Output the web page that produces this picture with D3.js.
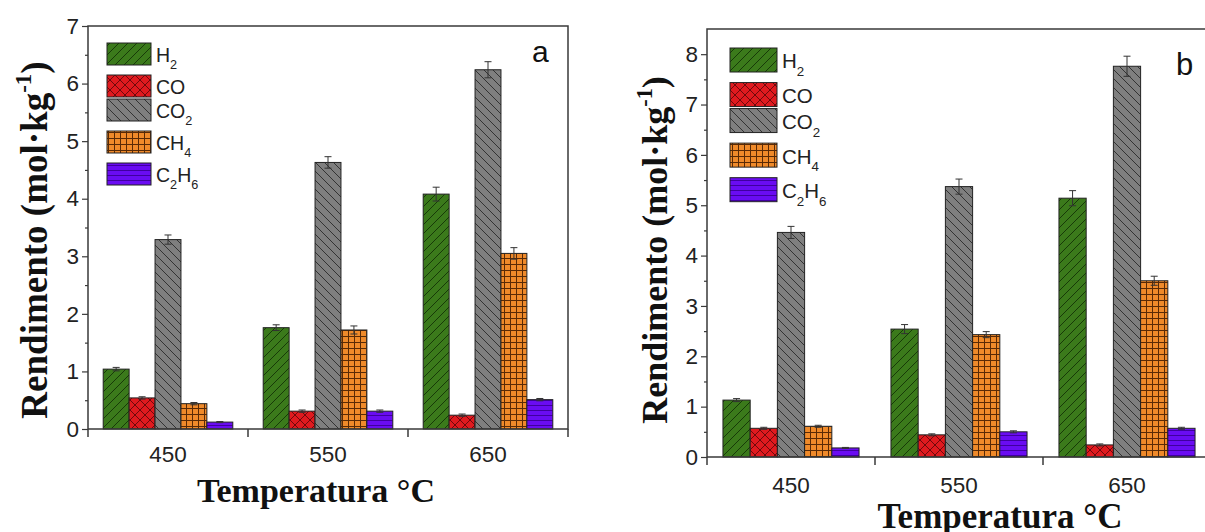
<!DOCTYPE html>
<html>
<head>
<style>
body {margin:0; background:#fff;}
text {font-family: Arial, "Liberation Sans", sans-serif;}
.ttl {font-family: "Liberation Serif", "Times New Roman", serif; font-weight:bold;}
</style>
<script src="https://d3js.org/d3.v7.min.js"></script>
</head>
<body>
<svg id="vis" width="1205" height="532"></svg>
<script>
// categories
var temps = ["450", "550", "650"];
var gases = ["H2", "CO", "CO2", "CH4", "C2H6"];
// legend labels, parts alternate normal / subscript
var legendParts = [["H","2"], ["CO"], ["CO","2"], ["CH","4"], ["C","2","H","6"]];

// panel a values (mol/kg), per gas across temps
var aH2   = [1.04, 1.76, 4.08];
var aCO   = [0.54, 0.31, 0.24];
var aCO2  = [3.29, 4.63, 6.24];
var aCH4  = [0.44, 1.72, 3.05];
var aC2H6 = [0.12, 0.31, 0.51];
var aErrH2   = [0.03, 0.05, 0.12];
var aErrCO   = [0.02, 0.02, 0.02];
var aErrCO2  = [0.08, 0.10, 0.14];
var aErrCH4  = [0.02, 0.07, 0.10];
var aErrC2H6 = [0.01, 0.02, 0.02];

// panel b values
var bH2   = [1.13, 2.54, 5.14];
var bCO   = [0.57, 0.44, 0.24];
var bCO2  = [4.46, 5.37, 7.76];
var bCH4  = [0.61, 2.43, 3.50];
var bC2H6 = [0.18, 0.50, 0.57];
var bErrH2   = [0.03, 0.09, 0.15];
var bErrCO   = [0.02, 0.02, 0.02];
var bErrCO2  = [0.12, 0.15, 0.20];
var bErrCH4  = [0.02, 0.06, 0.09];
var bErrC2H6 = [0.01, 0.02, 0.02];

var ticksA = [0,1,2,3,4,5,6,7];
var ticksB = [0,1,2,3,4,5,6,7,8];

var svg = d3.select("#vis");
var defs = svg.append("defs");

// fill patterns
function pat(id, size, bg, stroke, d) {
  var p = defs.append("pattern").attr("id", id)
    .attr("patternUnits", "userSpaceOnUse")
    .attr("width", size).attr("height", size);
  p.append("rect").attr("width", size).attr("height", size).attr("fill", bg);
  p.append("path").attr("d", d).attr("stroke", stroke).attr("stroke-width", 1).attr("fill", "none");
}
pat("pH2", 9, "#3b7a1b", "#173a08", "M0,9L9,0M-2,2L2,-2M7,11L11,7");
pat("pCO", 10, "#e01a1f", "#6e0a0c", "M0,0L10,10M10,0L0,10M-1,9L1,11M9,-1L11,1M-1,1L1,-1M9,11L11,9");
pat("pCO2", 9, "#7f7f7f", "#333333", "M0,0L9,9M-2,7L2,11M7,-2L11,2");
pat("pCH4", 6, "#ef8a2a", "#5a2a05", "M0.5,0V6M0,0.5H6");
pat("pC2H6", 5, "#6a0cf2", "#4000a0", "M0,0.5H5");
var fills = {H2:"url(#pH2)", CO:"url(#pCO)", CO2:"url(#pCO2)", CH4:"url(#pCH4)", C2H6:"url(#pC2H6)"};

function drawPanel(o) {
  var g = svg.append("g");
  var y = d3.scaleLinear().domain([0, o.yMax]).range([o.bottom, o.top]);
  var x = d3.scaleBand().domain(temps).range([o.left, o.right]);
  var step = x.bandwidth();
  var xi = d3.scaleBand().domain(gases).range([step*0.095, step*0.905]);

  var rows = [];
  temps.forEach(function(t, i) {
    gases.forEach(function(gs, k) {
      rows.push({t:t, gas:gs, v:o.vals[k][i], e:o.errs[k][i]});
    });
  });

  g.selectAll("rect.bar").data(rows).enter().append("rect")
    .attr("x", function(d){ return x(d.t) + xi(d.gas); })
    .attr("y", function(d){ return y(d.v); })
    .attr("width", xi.bandwidth())
    .attr("height", function(d){ return y(0) - y(d.v); })
    .attr("fill", function(d){ return fills[d.gas]; })
    .attr("stroke", "#222").attr("stroke-width", 1);

  // error bars
  var eb = g.selectAll("g.err").data(rows).enter().append("g")
    .attr("stroke", "#333").attr("stroke-width", 1);
  function cx(d){ return x(d.t) + xi(d.gas) + xi.bandwidth()/2; }
  eb.append("line").attr("x1", cx).attr("x2", cx)
    .attr("y1", function(d){ return y(d.v - d.e); }).attr("y2", function(d){ return y(d.v + d.e); });
  eb.append("line").attr("x1", function(d){ return cx(d)-3.5; }).attr("x2", function(d){ return cx(d)+3.5; })
    .attr("y1", function(d){ return y(d.v + d.e); }).attr("y2", function(d){ return y(d.v + d.e); });
  eb.append("line").attr("x1", function(d){ return cx(d)-3.5; }).attr("x2", function(d){ return cx(d)+3.5; })
    .attr("y1", function(d){ return y(d.v - d.e); }).attr("y2", function(d){ return y(d.v - d.e); });

  // frame
  g.append("path")
    .attr("d", "M" + o.left + "," + o.bottom + "V" + o.top + "H" + o.right + "V" + o.bottom + "Z")
    .attr("fill", "none").attr("stroke", "#3a3a3a").attr("stroke-width", 1.5);

  // y axis
  var minors = d3.range(0.5, o.yMax, 1);
  var ya = g.append("g").attr("transform", "translate(" + o.left + ",0)")
    .call(d3.axisLeft(y).tickValues(o.ticks).tickSize(6).tickPadding(3).tickFormat(d3.format("d")));
  g.append("g").attr("transform", "translate(" + o.left + ",0)")
    .call(d3.axisLeft(y).tickValues(minors).tickSize(3).tickFormat(""));
  g.selectAll(".domain").remove();
  g.selectAll(".tick line").attr("stroke", "#3a3a3a").attr("stroke-width", 1.2);
  ya.selectAll("text").attr("font-size", o.tickFont).attr("fill", "#222")
    .attr("font-family", "Arial, 'Liberation Sans', sans-serif");

  // x boundary ticks and labels
  var bounds = temps.map(function(t){ return x(t); }).concat([o.right]);
  g.selectAll("line.xt").data(bounds).enter().append("line")
    .attr("x1", function(d){ return d; }).attr("x2", function(d){ return d; })
    .attr("y1", o.bottom).attr("y2", o.bottom + 8)
    .attr("stroke", "#3a3a3a").attr("stroke-width", 1.5);
  g.selectAll("text.xl").data(temps).enter().append("text")
    .attr("x", function(d){ return x(d) + step/2; })
    .attr("y", o.bottom + o.xLabelDy)
    .attr("text-anchor", "middle").attr("font-size", o.tickFont).attr("fill", "#222")
    .text(function(d){ return d; });

  // legend
  var ly = o.legY;
  legendParts.forEach(function(parts, i) {
    if (i > 0) ly += o.legGap + (legendParts[i-1].length > 1 ? 8 : 0) * o.scale;
    g.append("rect").attr("x", o.legX).attr("y", ly).attr("width", o.legW).attr("height", o.legH)
      .attr("fill", fills[gases[i]]).attr("stroke", "#222").attr("stroke-width", 1);
    var t = g.append("text").attr("x", o.legX + o.legW + 5).attr("y", ly + o.legH*0.85)
      .attr("font-size", o.legFont).attr("fill", "#222");
    parts.forEach(function(p, j) {
      var sp = t.append("tspan").text(p);
      if (j % 2 == 1) sp.attr("font-size", o.legFont*0.65).attr("dy", o.legFont*0.38);
      else if (j > 0) sp.attr("dy", -o.legFont*0.38);
    });
  });

  // panel letter
  g.append("text").attr("x", o.letterX).attr("y", o.letterY).attr("font-size", o.letterFont)
    .attr("fill", "#111").text(o.letter);

  // axis titles
  var yt = g.append("text").attr("class", "ttl")
    .attr("transform", "translate(" + o.yTitleX + "," + o.yTitleY + ") rotate(-90)")
    .attr("text-anchor", "middle").attr("font-size", o.titleFont).attr("fill", "#111");
  yt.append("tspan").text("Rendimento (mol\u00b7kg");
  yt.append("tspan").text("-1").attr("font-size", o.titleFont*0.62).attr("dy", -o.titleFont*0.42);
  yt.append("tspan").text(")").attr("dy", o.titleFont*0.42);
  g.append("text").attr("class", "ttl").attr("x", o.xTitleX).attr("y", o.xTitleY)
    .attr("text-anchor", "middle").attr("font-size", o.xTitleFont).attr("fill", "#111")
    .text("Temperatura \u00b0C");
}

drawPanel({
  left: 88, right: 568, bottom: 429, top: 26, yMax: 7, ticks: ticksA,
  vals: [aH2, aCO, aCO2, aCH4, aC2H6], errs: [aErrH2, aErrCO, aErrCO2, aErrCH4, aErrC2H6],
  tickFont: 22.5, xLabelDy: 33,
  legX: 107, legY: 43, legW: 44, legH: 22, legGap: 24, legFont: 19.5, scale: 1,
  letter: "a", letterX: 532, letterY: 62, letterFont: 30,
  yTitleX: 47, yTitleY: 240, titleFont: 37,
  xTitleX: 316, xTitleY: 502, xTitleFont: 34
});

drawPanel({
  left: 707, right: 1211, bottom: 457, top: 29, yMax: 8.5, ticks: ticksB,
  vals: [bH2, bCO, bCO2, bCH4, bC2H6], errs: [bErrH2, bErrCO, bErrCO2, bErrCH4, bErrC2H6],
  tickFont: 22.5, xLabelDy: 36,
  legX: 730, legY: 48, legW: 47, legH: 24, legGap: 26, legFont: 20.5, scale: 1.07,
  letter: "b", letterX: 1176, letterY: 75, letterFont: 31,
  yTitleX: 667, yTitleY: 250, titleFont: 36,
  xTitleX: 1000, xTitleY: 528, xTitleFont: 35
});
</script>
</body>
</html>
